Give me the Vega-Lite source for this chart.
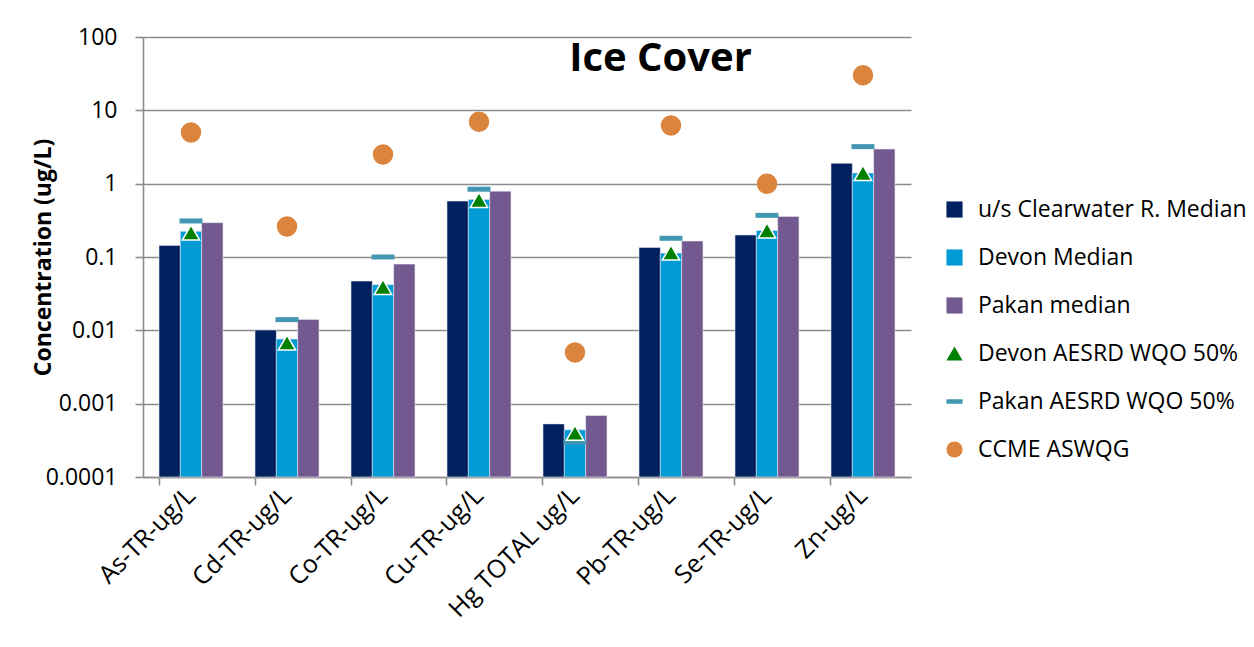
{
  "$schema": "https://vega.github.io/schema/vega-lite/v6.json",
  "autosize": {"type": "none"},
  "width": 768,
  "height": 440,
  "padding": {"left": 143, "top": 37, "right": 343, "bottom": 170},
  "background": "white",
  "config": {
    "font": "Open Sans",
    "view": {"stroke": null},
    "axis": {"labelColor": "#000000", "labelFont": "Open Sans", "labelFontSize": 23, "domainColor": "#8c8c8c", "domainWidth": 1.6, "tickColor": "#8c8c8c", "tickWidth": 1.6, "tickSize": 8, "gridColor": "#8c8c8c", "gridWidth": 1.6}
  },
  "title": {
    "text": "Ice Cover",
    "anchor": "start",
    "dx": 537,
    "offset": -85,
    "baseline": "alphabetic",
    "fontSize": 40,
    "fontWeight": "bold",
    "font": "Open Sans",
    "color": "#000000"
  },
  "data": {
    "values": [
      {"cat": "As-TR-ug/L", "series": "u/s Clearwater R. Median", "value": 0.144},
      {"cat": "As-TR-ug/L", "series": "Devon Median", "value": 0.224},
      {"cat": "As-TR-ug/L", "series": "Pakan median", "value": 0.294},
      {"cat": "As-TR-ug/L", "series": "Devon AESRD WQO 50%", "value": 0.215},
      {"cat": "As-TR-ug/L", "series": "Pakan AESRD WQO 50%", "value": 0.31},
      {"cat": "As-TR-ug/L", "series": "CCME ASWQG", "value": 5},
      {"cat": "Cd-TR-ug/L", "series": "u/s Clearwater R. Median", "value": 0.0101},
      {"cat": "Cd-TR-ug/L", "series": "Devon Median", "value": 0.0076},
      {"cat": "Cd-TR-ug/L", "series": "Pakan median", "value": 0.0141},
      {"cat": "Cd-TR-ug/L", "series": "Devon AESRD WQO 50%", "value": 0.0068},
      {"cat": "Cd-TR-ug/L", "series": "Pakan AESRD WQO 50%", "value": 0.014},
      {"cat": "Cd-TR-ug/L", "series": "CCME ASWQG", "value": 0.26},
      {"cat": "Co-TR-ug/L", "series": "u/s Clearwater R. Median", "value": 0.047},
      {"cat": "Co-TR-ug/L", "series": "Devon Median", "value": 0.042},
      {"cat": "Co-TR-ug/L", "series": "Pakan median", "value": 0.08},
      {"cat": "Co-TR-ug/L", "series": "Devon AESRD WQO 50%", "value": 0.039},
      {"cat": "Co-TR-ug/L", "series": "Pakan AESRD WQO 50%", "value": 0.1},
      {"cat": "Co-TR-ug/L", "series": "CCME ASWQG", "value": 2.5},
      {"cat": "Cu-TR-ug/L", "series": "u/s Clearwater R. Median", "value": 0.58},
      {"cat": "Cu-TR-ug/L", "series": "Devon Median", "value": 0.61},
      {"cat": "Cu-TR-ug/L", "series": "Pakan median", "value": 0.79},
      {"cat": "Cu-TR-ug/L", "series": "Devon AESRD WQO 50%", "value": 0.6},
      {"cat": "Cu-TR-ug/L", "series": "Pakan AESRD WQO 50%", "value": 0.84},
      {"cat": "Cu-TR-ug/L", "series": "CCME ASWQG", "value": 7},
      {"cat": "Hg TOTAL ug/L", "series": "u/s Clearwater R. Median", "value": 0.00053},
      {"cat": "Hg TOTAL ug/L", "series": "Devon Median", "value": 0.00044},
      {"cat": "Hg TOTAL ug/L", "series": "Pakan median", "value": 0.00069},
      {"cat": "Hg TOTAL ug/L", "series": "Devon AESRD WQO 50%", "value": 0.0004},
      {"cat": "Hg TOTAL ug/L", "series": "Pakan AESRD WQO 50%", "value": 0.0003},
      {"cat": "Hg TOTAL ug/L", "series": "CCME ASWQG", "value": 0.005},
      {"cat": "Pb-TR-ug/L", "series": "u/s Clearwater R. Median", "value": 0.135},
      {"cat": "Pb-TR-ug/L", "series": "Devon Median", "value": 0.113},
      {"cat": "Pb-TR-ug/L", "series": "Pakan median", "value": 0.165},
      {"cat": "Pb-TR-ug/L", "series": "Devon AESRD WQO 50%", "value": 0.115},
      {"cat": "Pb-TR-ug/L", "series": "Pakan AESRD WQO 50%", "value": 0.18},
      {"cat": "Pb-TR-ug/L", "series": "CCME ASWQG", "value": 6.2},
      {"cat": "Se-TR-ug/L", "series": "u/s Clearwater R. Median", "value": 0.2},
      {"cat": "Se-TR-ug/L", "series": "Devon Median", "value": 0.23},
      {"cat": "Se-TR-ug/L", "series": "Pakan median", "value": 0.358},
      {"cat": "Se-TR-ug/L", "series": "Devon AESRD WQO 50%", "value": 0.23},
      {"cat": "Se-TR-ug/L", "series": "Pakan AESRD WQO 50%", "value": 0.37},
      {"cat": "Se-TR-ug/L", "series": "CCME ASWQG", "value": 1},
      {"cat": "Zn-ug/L", "series": "u/s Clearwater R. Median", "value": 1.9},
      {"cat": "Zn-ug/L", "series": "Devon Median", "value": 1.4},
      {"cat": "Zn-ug/L", "series": "Pakan median", "value": 2.97},
      {"cat": "Zn-ug/L", "series": "Devon AESRD WQO 50%", "value": 1.4},
      {"cat": "Zn-ug/L", "series": "Pakan AESRD WQO 50%", "value": 3.2},
      {"cat": "Zn-ug/L", "series": "CCME ASWQG", "value": 30}
    ]
  },
  "encoding": {
    "x": {
      "field": "cat", "type": "nominal",
      "scale": {"domain": ["As-TR-ug/L", "Cd-TR-ug/L", "Co-TR-ug/L", "Cu-TR-ug/L", "Hg TOTAL ug/L", "Pb-TR-ug/L", "Se-TR-ug/L", "Zn-ug/L"], "paddingInner": 0.3333, "paddingOuter": 0.1667},
      "axis": {"title": null, "labelAngle": -45, "labelAlign": "right", "labelBaseline": "middle", "bandPosition": 0, "labelPadding": 6, "labelFontSize": 25, "grid": false}
    },
    "y": {
      "field": "value", "type": "quantitative",
      "scale": {"type": "log", "domain": [0.0001, 100], "nice": false},
      "axis": {"title": "Concentration (ug/L)", "titleFontSize": 23, "titleFontWeight": "bold", "titleColor": "#000000", "titlePadding": -10, "values": [0.0001, 0.001, 0.01, 0.1, 1, 10, 100], "format": "~g", "labelPadding": 18, "grid": true}
    },
    "color": {
      "field": "series", "type": "nominal",
      "scale": {
        "domain": ["u/s Clearwater R. Median", "Devon Median", "Pakan median", "Devon AESRD WQO 50%", "Pakan AESRD WQO 50%", "CCME ASWQG"],
        "range": ["#002060", "#009AD4", "#725A91", "#008000", "#4397B2", "#DB843D"]
      },
      "legend": {
        "title": null,
        "orient": "none",
        "legendX": 800,
        "legendY": 161,
        "labelFont": "Open Sans",
        "labelFontSize": 23,
        "labelColor": "#000000",
        "labelOffset": 12,
        "rowPadding": 24,
        "symbolSize": 260,
        "symbolOpacity": 1,
        "symbolStrokeWidth": 0,
        "labelLimit": 400
      }
    }
  },
  "layer": [
    {
      "transform": [{"filter": "indexof(['u/s Clearwater R. Median','Devon Median','Pakan median'], datum.series) >= 0"}],
      "mark": {"type": "bar", "stroke": "#e8e4f0", "strokeWidth": 0.6},
      "encoding": {
        "y2": {"datum": 0.0001},
        "xOffset": {"field": "series", "type": "nominal", "scale": {"domain": ["u/s Clearwater R. Median", "Devon Median", "Pakan median"], "paddingInner": 0, "paddingOuter": 0}}
      }
    },
    {
      "transform": [{"filter": "datum.series === 'Pakan AESRD WQO 50%'"}],
      "mark": {"type": "tick", "orient": "horizontal", "size": 23, "thickness": 5, "opacity": 1}
    },
    {
      "transform": [{"filter": "datum.series === 'Devon AESRD WQO 50%'"}],
      "mark": {"type": "point", "filled": true, "size": 300, "stroke": "white", "strokeWidth": 1.5, "opacity": 1},
      "encoding": {
        "shape": {"field": "series", "type": "nominal", "scale": {"domain": ["u/s Clearwater R. Median", "Devon Median", "Pakan median", "Devon AESRD WQO 50%", "Pakan AESRD WQO 50%", "CCME ASWQG"], "range": ["square", "square", "square", "triangle-up", "M-1,-0.28H1V0.28H-1Z", "circle"]}}
      }
    },
    {
      "transform": [{"filter": "datum.series === 'CCME ASWQG'"}],
      "mark": {"type": "point", "filled": true, "size": 420, "opacity": 1},
      "encoding": {
        "shape": {"field": "series", "type": "nominal", "scale": {"domain": ["u/s Clearwater R. Median", "Devon Median", "Pakan median", "Devon AESRD WQO 50%", "Pakan AESRD WQO 50%", "CCME ASWQG"], "range": ["square", "square", "square", "triangle-up", "M-1,-0.28H1V0.28H-1Z", "circle"]}}
      }
    }
  ]
}
